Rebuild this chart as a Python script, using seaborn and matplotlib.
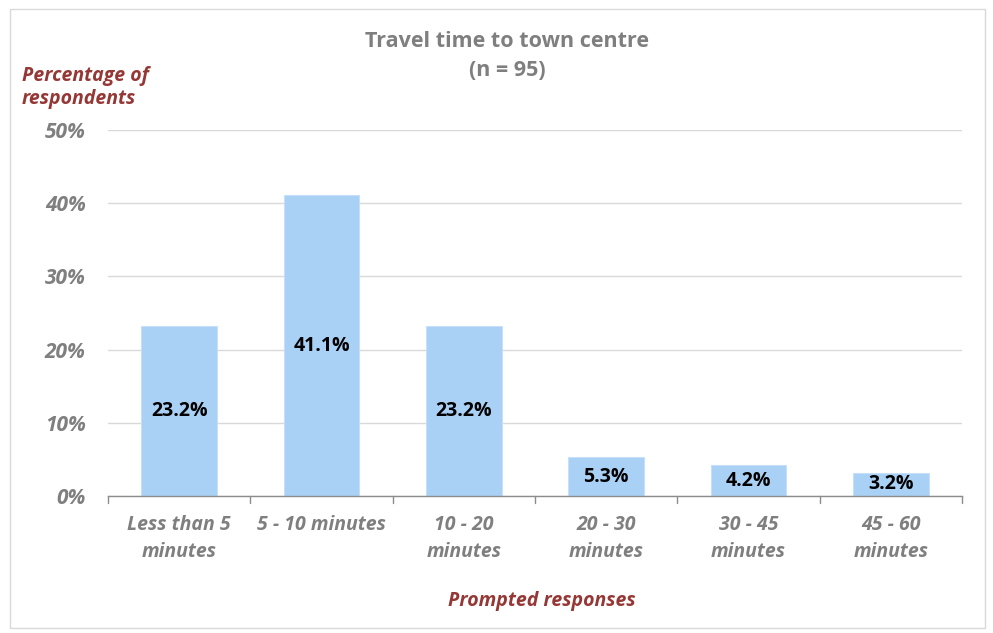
import matplotlib
matplotlib.use("Agg")
import matplotlib.pyplot as plt
import seaborn as sns
import pandas as pd
from matplotlib.patches import Rectangle

categories = ["Less than 5\nminutes", "5 - 10 minutes", "10 - 20\nminutes",
              "20 - 30\nminutes", "30 - 45\nminutes", "45 - 60\nminutes"]
values = [23.2, 41.1, 23.2, 5.3, 4.2, 3.2]
y_ticks = [0, 10, 20, 30, 40, 50]
y_tick_labels = ["0%", "10%", "20%", "30%", "40%", "50%"]

df = pd.DataFrame({"category": categories, "value": values})

sns.set_theme(style="white")
plt.rcParams["font.family"] = ["Open Sans", "DejaVu Sans"]

fig = plt.figure(figsize=(9.93, 6.33), dpi=100)
ax = fig.add_axes([0.1088, 0.2164, 0.86, 0.578])

sns.barplot(data=df, x="category", y="value", color="#A9D1F5",
            width=0.53, saturation=1, ax=ax, edgecolor="#C5E0F8", linewidth=0.8)

ax.set_ylim(0, 50)
ax.set_xlim(-0.5, len(categories) - 0.5)
ax.set_yticks(y_ticks)
ax.set_yticklabels(y_tick_labels, color="#7F7F7F", fontsize=15,
                   fontweight="bold", fontstyle="italic")
ax.set_xticks(range(len(categories)))
ax.set_xticklabels(categories, color="#7F7F7F", fontsize=14,
                   fontweight="bold", fontstyle="italic", linespacing=1.41)
ax.tick_params(axis="y", length=0, pad=16)
ax.tick_params(axis="x", length=0, pad=14)

ax.yaxis.grid(True, color="#D9D9D9", linewidth=1)
ax.set_axisbelow(True)
for s in ["top", "right", "left"]:
    ax.spines[s].set_visible(False)
ax.spines["bottom"].set_color("#8C8C8C")
ax.spines["bottom"].set_linewidth(1)

# category separators below the axis line
for b in range(len(categories) + 1):
    ax.plot([b - 0.5, b - 0.5], [0, -0.02], transform=ax.get_xaxis_transform(),
            color="#8C8C8C", linewidth=1, clip_on=False)

for i, v in enumerate(values):
    ax.text(i, v / 2, f"{v:.1f}%", ha="center", va="center",
            fontsize=14, fontweight="bold", color="black")

ax.set_xlabel("")
ax.set_ylabel("")

fig.text(0.511, 0.9115, "Travel time to town centre\n(n = 95)", ha="center", va="center",
         fontsize=15.5, fontweight="bold", color="#7F7F7F", linespacing=1.55)
fig.text(0.022, 0.8618, "Percentage of\nrespondents", ha="left", va="center",
         fontsize=14, fontweight="bold", fontstyle="italic", color="#953735",
         linespacing=1.26)
fig.text(0.546, 0.050, "Prompted responses", ha="center", va="center",
         fontsize=14, fontweight="bold", fontstyle="italic", color="#953735")

fig.patches.append(Rectangle((0.010, 0.008), 0.982, 0.977, transform=fig.transFigure,
                             fill=False, edgecolor="#D9D9D9", linewidth=1))

fig.savefig("out.png", dpi=100, facecolor="white")
